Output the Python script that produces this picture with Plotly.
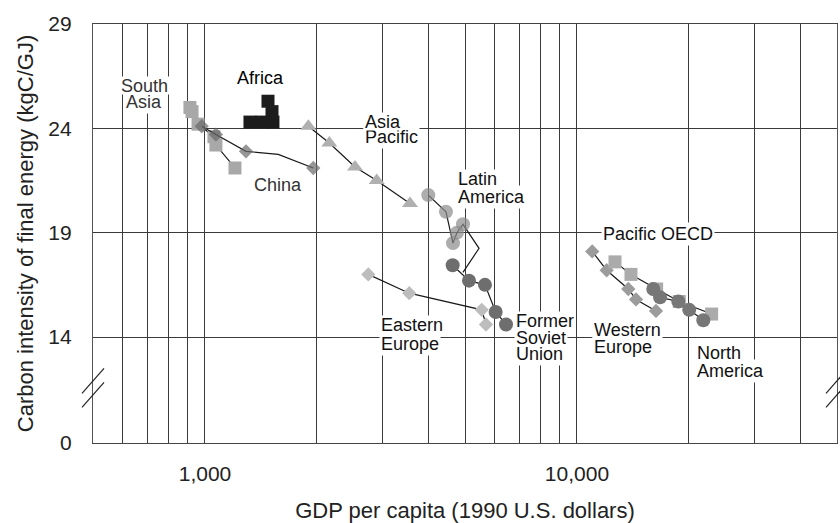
import math
import plotly.graph_objects as go

# GDP per capita (1990 US$) and carbon intensity of final energy (kgC/GJ)
south_asia_gdp = [911, 923, 958, 1057, 1070, 1204]
south_asia_ci = [25.0, 24.8, 24.2, 23.6, 23.2, 22.1]

china_gdp = [980, 1070, 1289, 1574, 1955]
china_ci = [24.1, 23.7, 22.9, 22.75, 22.1]
china_marker = [True, True, True, False, True]

africa_gdp = [1321, 1423, 1477, 1514, 1523]
africa_ci = [24.3, 24.3, 25.3, 24.8, 24.3]

asia_pacific_gdp = [1896, 2159, 2531, 2895, 3557]
asia_pacific_ci = [24.1, 23.3, 22.15, 21.5, 20.4]

latin_america_gdp = [3984, 4444, 4642, 4757, 4938, 5454, 4938]
latin_america_ci = [20.8, 20.0, 18.5, 19.0, 19.4, 18.25, 17.1]
latin_america_marker = [True, True, True, True, True, False, False]

eastern_europe_gdp = [2748, 3541, 5544, 5694]
eastern_europe_ci = [17.0, 16.1, 15.3, 14.6]

fsu_gdp = [4632, 5125, 5658, 6045, 6445]
fsu_ci = [17.44, 16.7, 16.5, 15.2, 14.6]

western_europe_gdp = [10990, 12017, 13740, 14413, 16306]
western_europe_ci = [18.1, 17.2, 16.3, 15.8, 15.25]

pacific_oecd_gdp = [12653, 13968, 16374, 18837, 23014]
pacific_oecd_ci = [17.6, 17.0, 16.3, 15.7, 15.1]

north_america_gdp = [16035, 16722, 18723, 20032, 21858]
north_america_ci = [16.3, 15.9, 15.7, 15.3, 14.8]

# Axis grid / ticks
gdp_grid = [500, 600, 700, 800, 900, 1000, 2000, 3000, 4000, 5000, 6000,
            7000, 8000, 9000, 10000, 20000, 30000, 40000, 50000]
gdp_labels = {1000: "1,000", 10000: "10,000"}
gdp_range = [500, 50000]

# The intensity axis is broken between 0 and 14
ci_break_top = 14
ci_break_span = 5.08
ci_floor = ci_break_top - ci_break_span
ci_ticks = [ci_floor, 14, 19, 24, 29]
ci_ticktext = ["0", "14", "19", "24", "29"]

# Region labels: lines of text, anchor GDP, intensity per line, alignment, colour
region_labels = [
    (["South", "Asia"], 687, [26.06, 25.26], "center", "#333333"),
    (["Africa"], 1406, [26.43], "center", "#000000"),
    (["China"], 1574, [21.27], "center", "#333333"),
    (["Asia", "Pacific"], 2660, [24.35, 23.58], "left", "#111111"),
    (["Latin", "America"], 4740, [21.59, 20.71], "left", "#111111"),
    (["Eastern", "Europe"], 2930, [14.61, 13.68], "left", "#111111"),
    (["Former", "Soviet", "Union"], 6760, [14.77, 13.97, 13.17], "left", "#111111"),
    (["Pacific OECD"], 16530, [18.92], "center", "#111111"),
    (["Western", "Europe"], 11000, [14.35, 13.52], "left", "#111111"),
    (["North", "America"], 20750, [13.28, 12.37], "left", "#111111"),
]

FONT = "Liberation Sans, Arial, Helvetica, sans-serif"
LINE = dict(color="#1a1a1a", width=1.2)

fig = go.Figure()


def add_series(gdp, ci, symbol, size, color, line=True, show=None):
    sizes = size if show is None else [size if s else 0 for s in show]
    fig.add_trace(go.Scatter(
        x=gdp, y=ci,
        mode="lines+markers" if line else "markers",
        line=LINE,
        marker=dict(symbol=symbol, size=sizes, color=color, line=dict(width=0)),
        showlegend=False,
        hoverinfo="x+y",
    ))


add_series(south_asia_gdp, south_asia_ci, "square", 13, "#a8a8a8")
add_series(china_gdp, china_ci, "diamond", 11, "#6a6a6a", show=china_marker)
add_series(africa_gdp, africa_ci, "square", 13, "#1c1c1c", line=False)
add_series(asia_pacific_gdp, asia_pacific_ci, "triangle-up", 14, "#b0b0b0")
add_series(latin_america_gdp, latin_america_ci, "circle", 14, "#8a8a8a",
           show=latin_america_marker)
add_series(eastern_europe_gdp, eastern_europe_ci, "diamond", 11, "#bdbdbd")
add_series(fsu_gdp, fsu_ci, "circle", 14, "#6e6e6e")
add_series(western_europe_gdp, western_europe_ci, "diamond", 11, "#9c9c9c")
add_series(pacific_oecd_gdp, pacific_oecd_ci, "square", 13, "#ababab")
add_series(north_america_gdp, north_america_ci, "circle", 14, "#777777")

# One annotation per text line, each on a white box that hides the grid.
# The bottom line of a label keeps its full box (room for descenders) and is
# drawn first; the lines above it use a shorter box drawn on top, so the
# tightly stacked lines do not clip each other.
annotations = []
for lines, gx, ys, align, color in region_labels:
    order = list(range(len(lines)))[::-1]
    for i in order:
        ann = dict(
            x=math.log10(gx), y=ys[i], xref="x", yref="y",
            text=lines[i], showarrow=False,
            xanchor=align, yanchor="middle",
            font=dict(family=FONT, size=18, color=color),
            bgcolor="white", borderpad=1,
        )
        if i < len(lines) - 1:
            ann["height"] = 15
            ann["valign"] = "middle"
        annotations.append(ann)

# Axis-break marks on the left and right frame edges
pw = 744.0
shapes = []
for xc in (0.0, 1.0):
    for y_lo, y_hi in ((0.1186, 0.1783), (0.0852, 0.1449)):
        shapes.append(dict(
            type="line", xref="paper", yref="paper",
            x0=xc - 11 / pw, x1=xc + 11 / pw, y0=y_lo, y1=y_hi,
            line=dict(color="#222222", width=1.2), layer="above",
        ))

fig.update_layout(
    width=840, height=523,
    margin=dict(l=93, r=3, t=24, b=80),
    paper_bgcolor="white", plot_bgcolor="white",
    font=dict(family=FONT, color="#222222"),
    annotations=annotations,
    shapes=shapes,
)

fig.update_xaxes(
    type="log",
    range=[math.log10(gdp_range[0]), math.log10(gdp_range[1])],
    tickmode="array",
    tickvals=gdp_grid,
    ticktext=[gdp_labels.get(v, "") for v in gdp_grid],
    ticks="", ticklabelstandoff=12,
    tickfont=dict(size=21, color="#222222"),
    showgrid=True, gridcolor="#3a3a3a", gridwidth=1.3,
    showline=True, mirror=True, linecolor="#444444", linewidth=1.2,
    zeroline=False, automargin=False,
    title=dict(text="GDP per capita (1990 U.S. dollars)",
               font=dict(size=22, color="#222222"), standoff=18),
)

fig.update_yaxes(
    range=[ci_floor, 29],
    tickmode="array",
    tickvals=ci_ticks, ticktext=ci_ticktext,
    ticks="", ticklabelstandoff=16,
    tickfont=dict(size=21, color="#222222"),
    showgrid=True, gridcolor="#3a3a3a", gridwidth=1.3,
    showline=True, mirror=True, linecolor="#555555", linewidth=1.2,
    zeroline=False, automargin=False,
    title=dict(text="Carbon intensity of final energy (kgC/GJ)",
               font=dict(size=22, color="#222222"), standoff=8),
)

fig.write_html("out.html")
